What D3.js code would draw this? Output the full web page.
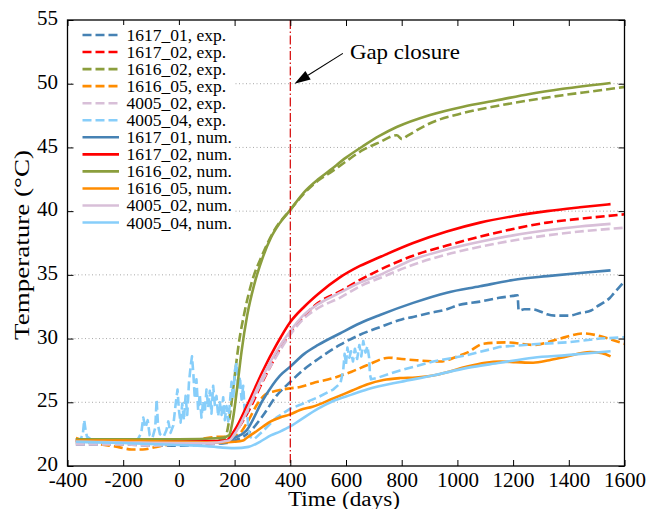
<!DOCTYPE html>
<html><head><meta charset="utf-8">
<script src="https://cdn.jsdelivr.net/npm/d3@7"></script>
<style>
body{margin:0;background:#fff}
svg{display:block}
text{font-family:"Liberation Serif","Times New Roman",serif;fill:#000}
</style>
</head><body>
<svg id="c" width="646" height="509"></svg>
<script>
// ---------- data ----------
const xTicks = [-400,-200,0,200,400,600,800,1000,1200,1400,1600];
const yTicks = [20,25,30,35,40,45,50,55];
const xLabel = "Time (days)";
const yLabel = "Temperature (\u00B0C)";
const gapClosureDay = 400;
const annText = "Gap closure";
const annPoint = [415, 50];
const annTextPos = [614, 52.5];

const seriesNames = ["1617_01, exp.","1617_02, exp.","1616_02, exp.","1616_05, exp.","4005_02, exp.","4005_04, exp.",
                     "1617_01, num.","1617_02, num.","1616_02, num.","1616_05, num.","4005_02, num.","4005_04, num."];

// experimental series (time in days, temperature in °C)
const t_1617_01_exp = [-370,-300,-200,-100,0,100,170,200,250,300,350,400,450,500,578,650,722,800,841,900,962,1000,1081,1150,1200,1216,1220,1240,1270,1300,1322,1350,1400,1440,1480,1500,1530,1548,1560,1580,1600];
const T_1617_01_exp = [21.7,21.7,21.7,21.6,21.6,21.7,21.8,22.0,22.6,23.9,25.5,26.6,27.6,28.4,29.5,30.3,30.9,31.5,31.7,32.0,32.3,32.6,32.9,33.2,33.35,33.4,32.2,32.3,32.3,32.1,31.9,31.8,31.8,32.0,32.2,32.5,32.9,33.2,33.5,34.0,34.5];

const t_1617_02_exp = [-370,-300,-200,-100,0,100,170,200,250,300,350,400,450,500,578,650,722,841,962,1081,1200,1322,1440,1600];
const T_1617_02_exp = [21.9,21.9,21.8,21.8,21.8,21.9,22.0,22.6,24.3,26.6,28.7,30.5,31.8,32.8,33.7,34.6,35.4,36.5,37.3,38.0,38.6,39.1,39.4,39.75];

const t_1616_02_exp = [-370,-300,-200,-100,0,100,160,172,185,200,215,235,260,300,340,400,450,500,542,600,661,720,782,801,820,902,1021,1142,1260,1379,1500,1600];
const T_1616_02_exp = [21.8,21.8,21.8,21.8,21.8,21.9,22.1,22.6,24.3,27.0,29.6,32.0,34.3,36.6,38.4,40.1,41.4,42.4,43.0,43.9,44.8,45.4,45.95,45.65,45.9,46.9,47.7,48.25,48.7,49.1,49.45,49.75];

const t_1616_05_exp = [-370,-330,-280,-220,-170,-130,-80,-30,0,50,100,150,190,220,250,280,310,350,400,435,480,554,620,675,754,800,853,937,1000,1035,1094,1177,1272,1368,1452,1512,1584,1600];
const T_1616_05_exp = [22.2,21.9,21.7,21.5,21.3,21.3,21.5,21.7,21.8,22.0,22.2,22.3,22.3,22.6,23.6,24.8,25.6,25.9,26.1,26.2,26.5,26.9,27.4,27.9,28.5,28.4,28.3,28.2,28.6,28.9,29.6,29.7,29.5,30.0,30.4,30.2,29.7,29.6];

const t_4005_02_exp = [-370,-300,-200,-100,0,100,180,200,250,300,350,400,450,500,578,650,722,841,962,1081,1200,1322,1440,1600];
const T_4005_02_exp = [21.7,21.7,21.7,21.6,21.7,21.7,22.0,22.5,24.5,26.7,28.6,30.3,31.6,32.4,33.2,34.1,34.75,35.8,36.6,37.2,37.7,38.1,38.4,38.7];

const t_4005_04_exp = [-370,-355,-345,-340,-335,-330,-310,-250,-200,-150,-135,-128,-120,-112,-105,-95,-85,-80,-75,-68,-55,-45,-38,-30,-20,-12,-5,
  0,6,12,18,24,30,36,42,47,52,57,63,69,75,81,87,93,99,105,111,117,123,129,135,141,147,153,159,165,171,177,183,189,195,201,207,213,219,225,231,237,243,249,255,270,
  300,350,400,435,500,554,580,590,595,600,605,612,618,625,632,640,648,655,662,670,677,683,686,690,710,794,913,1035,1153,1272,1393,1512,1600];
const T_4005_04_exp = [22.0,22.0,22.5,23.6,22.8,22.3,22.0,22.0,21.9,22.0,22.6,23.8,23.0,23.6,22.4,22.2,23.0,25.2,23.2,22.5,22.3,22.8,23.5,22.6,23.2,24.8,26.0,
  24.4,23.4,24.9,23.6,25.5,24.0,26.5,27.8,28.6,27.2,25.3,26.8,24.4,25.6,23.8,25.1,24.2,26.0,24.6,25.9,24.1,26.3,24.8,25.5,23.9,25.0,24.0,25.4,23.6,24.7,23.5,24.9,26.6,25.2,27.5,28.1,26.0,27.0,25.2,26.3,24.0,25.0,23.0,22.3,22.1,
  22.7,23.8,24.5,24.8,25.4,26.0,26.5,27.5,28.8,28.0,29.3,28.5,29.0,28.2,29.2,28.4,29.5,28.6,29.8,28.9,29.4,28.5,27.2,26.8,26.9,27.5,28.2,28.7,29.35,29.55,29.7,30.0,30.1];

// numerical series
const t_1617_01_num = [-370,-200,0,100,170,200,243,302,363,400,450,500,578,650,722,841,962,1081,1200,1322,1440,1550];
const T_1617_01_num = [22.0,21.9,21.85,21.8,21.9,22.2,22.8,25.2,27.1,27.8,28.8,29.5,30.4,31.2,31.85,32.8,33.6,34.1,34.6,34.9,35.15,35.35];

const t_1617_02_num = [-370,-200,0,100,170,200,250,300,350,400,450,500,578,650,722,841,962,1081,1200,1322,1440,1550];
const T_1617_02_num = [22.0,22.0,21.95,21.95,22.0,22.8,25.0,27.4,29.5,31.3,32.5,33.5,34.8,35.7,36.4,37.5,38.4,39.1,39.6,40.0,40.3,40.55];

const t_1616_02_num = [-370,-200,0,150,180,195,210,225,245,270,300,330,360,400,450,500,542,600,661,720,782,902,1021,1142,1260,1379,1550];
const T_1616_02_num = [22.1,22.1,22.1,22.2,22.4,23.8,26.3,29.0,31.8,34.2,36.3,37.9,39.0,40.1,41.5,42.5,43.2,44.2,45.1,45.9,46.6,47.55,48.2,48.7,49.2,49.6,50.06];

const t_1616_05_num = [-370,-200,0,150,200,230,243,270,302,330,363,400,435,480,554,620,675,734,794,850,913,970,1035,1100,1153,1210,1272,1330,1393,1476,1520,1550];
const T_1616_05_num = [22.0,22.0,21.9,21.85,21.9,22.0,22.2,22.6,23.1,23.5,23.8,24.05,24.4,24.65,25.3,25.9,26.4,26.75,26.9,26.95,27.1,27.4,27.8,28.1,28.2,28.15,28.1,28.3,28.6,28.95,28.85,28.6];

const t_4005_02_num = [-370,-200,0,100,180,200,250,300,350,400,450,500,578,650,722,841,962,1081,1200,1322,1440,1550];
const T_4005_02_num = [21.9,21.85,21.8,21.8,22.0,22.5,24.6,27.0,29.0,30.6,31.9,32.7,33.6,34.4,35.0,36.2,37.0,37.6,38.1,38.5,38.8,39.0];

const t_4005_04_num = [-370,-200,0,100,200,250,291,330,363,400,435,500,554,620,675,794,913,1035,1153,1272,1393,1550];
const T_4005_04_num = [21.9,21.8,21.65,21.55,21.4,21.5,21.9,22.4,22.7,23.1,23.6,24.5,25.1,25.6,26.0,26.6,27.1,27.7,28.1,28.5,28.7,29.0];

const seriesTimes = [t_1617_01_exp,t_1617_02_exp,t_1616_02_exp,t_1616_05_exp,t_4005_02_exp,t_4005_04_exp,
                     t_1617_01_num,t_1617_02_num,t_1616_02_num,t_1616_05_num,t_4005_02_num,t_4005_04_num];
const seriesTemps = [T_1617_01_exp,T_1617_02_exp,T_1616_02_exp,T_1616_05_exp,T_4005_02_exp,T_4005_04_exp,
                     T_1617_01_num,T_1617_02_num,T_1616_02_num,T_1616_05_num,T_4005_02_num,T_4005_04_num];

// ---------- styles ----------
const palette = ["#4682b4","#ff0000","#8b9e3d","#ff8c00","#d8bfd8","#87cefa"];
const W = 646, H = 509;
const M = {left:67.5, right:21.5, top:20, bottom:43};

// ---------- chart ----------
const svg = d3.select("#c");
const x = d3.scaleLinear().domain([-400,1600]).range([M.left, W - M.right]);
const y = d3.scaleLinear().domain([20,55]).range([H - M.bottom, M.top]);

svg.append("defs").append("clipPath").attr("id","clip")
  .append("rect").attr("x",M.left).attr("y",M.top)
  .attr("width",x.range()[1]-M.left).attr("height",y.range()[0]-M.top);

// grid
svg.append("g").selectAll("line").data(yTicks.filter(v=>v>20&&v<55)).join("line")
  .attr("x1",x.range()[0]).attr("x2",x.range()[1])
  .attr("y1",d=>y(d)).attr("y2",d=>y(d))
  .attr("stroke","#a8a8a8").attr("stroke-width",1).attr("stroke-dasharray","1,2.5");

// series
const line = d3.line().x(d=>x(d[0])).y(d=>y(d[1]));
const gLines = svg.append("g").attr("clip-path","url(#clip)");
seriesNames.forEach((name,i)=>{
  const pts = seriesTimes[i].map((t,k)=>[t, seriesTemps[i][k]]);
  const isExp = i < 6;
  const noisy = (i === 5);
  line.curve(noisy ? d3.curveLinear : d3.curveMonotoneX);
  gLines.append("path").datum(pts)
    .attr("d", line)
    .attr("fill","none")
    .attr("stroke", palette[i%6])
    .attr("stroke-width", 2.6)
    .attr("stroke-dasharray", isExp ? "9,4" : null)
    .attr("stroke-linejoin","round");
});

// gap closure line
gLines.append("line")
  .attr("x1",x(gapClosureDay)).attr("x2",x(gapClosureDay))
  .attr("y1",y.range()[1]).attr("y2",y.range()[0])
  .attr("stroke","#d40000").attr("stroke-width",1.2)
  .attr("stroke-dasharray","9,2.5,1.5,2.5");

// axes
const fs = 21;
const axB = svg.append("g").attr("transform",`translate(0,${y.range()[0]})`)
  .call(d3.axisBottom(x).tickValues(xTicks).tickSize(-6).tickSizeOuter(0).tickPadding(6.5).tickFormat(d3.format("d")));
const axL = svg.append("g").attr("transform",`translate(${x.range()[0]},0)`)
  .call(d3.axisLeft(y).tickValues(yTicks).tickSize(-6).tickSizeOuter(0).tickPadding(9.5).tickFormat(d3.format("d")));
const axT = svg.append("g").attr("transform",`translate(0,${y.range()[1]})`)
  .call(d3.axisTop(x).tickValues(xTicks).tickSize(-6).tickSizeOuter(0).tickFormat(""));
const axR = svg.append("g").attr("transform",`translate(${x.range()[1]},0)`)
  .call(d3.axisRight(y).tickValues(yTicks).tickSize(-6).tickSizeOuter(0).tickFormat(""));
[axB,axL,axT,axR].forEach(a=>{
  a.select(".domain").remove();
  a.selectAll(".tick line").attr("stroke","#000").attr("stroke-width",1);
  a.selectAll("text").attr("font-size",fs).attr("font-family",null).attr("fill","#000");
});
axB.selectAll("text").text(d=>String(d).replace("\u2212","-"));
axL.selectAll("text").attr("dy","0.22em");

svg.append("rect").attr("x",x.range()[0]).attr("y",y.range()[1])
  .attr("width",x.range()[1]-x.range()[0]).attr("height",y.range()[0]-y.range()[1])
  .attr("fill","none").attr("stroke","#000").attr("stroke-width",1.3);

// axis labels
svg.append("text").attr("x",(x.range()[0]+x.range()[1])/2 - 2).attr("y",505.5)
  .attr("text-anchor","middle").attr("font-size",20.5).attr("textLength",112).attr("lengthAdjust","spacingAndGlyphs").text(xLabel);
svg.append("text").attr("transform",`translate(29,${(y.range()[0]+y.range()[1])/2 + 2}) rotate(-90)`)
  .attr("text-anchor","middle").attr("font-size",22).attr("textLength",190).attr("lengthAdjust","spacingAndGlyphs").text(yLabel);

// annotation
const tip = [x(annPoint[0]), y(annPoint[1])];
const tpos = [x(annTextPos[0]), y(annTextPos[1])];
svg.append("text").attr("x",tpos[0]).attr("y",tpos[1]+7.5).attr("font-size",21.5)
  .attr("textLength",110).attr("lengthAdjust","spacingAndGlyphs").text(annText);
const start = [tpos[0]-7, tpos[1]+1.5];
const ang = Math.atan2(tip[1]-start[1], tip[0]-start[0]);
const hl = 16, hw = 5;
const base = [tip[0]-hl*Math.cos(ang), tip[1]-hl*Math.sin(ang)];
svg.append("line").attr("x1",start[0]).attr("y1",start[1]).attr("x2",base[0]).attr("y2",base[1])
  .attr("stroke","#000").attr("stroke-width",1.1);
svg.append("path").attr("d",`M${tip[0]},${tip[1]}L${base[0]-hw*Math.sin(ang)},${base[1]+hw*Math.cos(ang)}L${base[0]+hw*Math.sin(ang)},${base[1]-hw*Math.cos(ang)}Z`)
  .attr("fill","#000");

// legend
const lg = svg.append("g");
lg.append("rect").attr("x",74).attr("y",25).attr("width",160).attr("height",207).attr("fill","#fff");
seriesNames.forEach((name,i)=>{
  const yy = 35 + i*17.05;
  lg.append("line").attr("x1",82.5).attr("x2",119).attr("y1",yy).attr("y2",yy)
    .attr("stroke",palette[i%6]).attr("stroke-width",2.6)
    .attr("stroke-dasharray", i<6 ? "9,4" : null);
  lg.append("text").attr("x",126.5).attr("y",yy).attr("dy","0.34em").attr("font-size",17.5).text(name);
});
</script>
</body></html>
